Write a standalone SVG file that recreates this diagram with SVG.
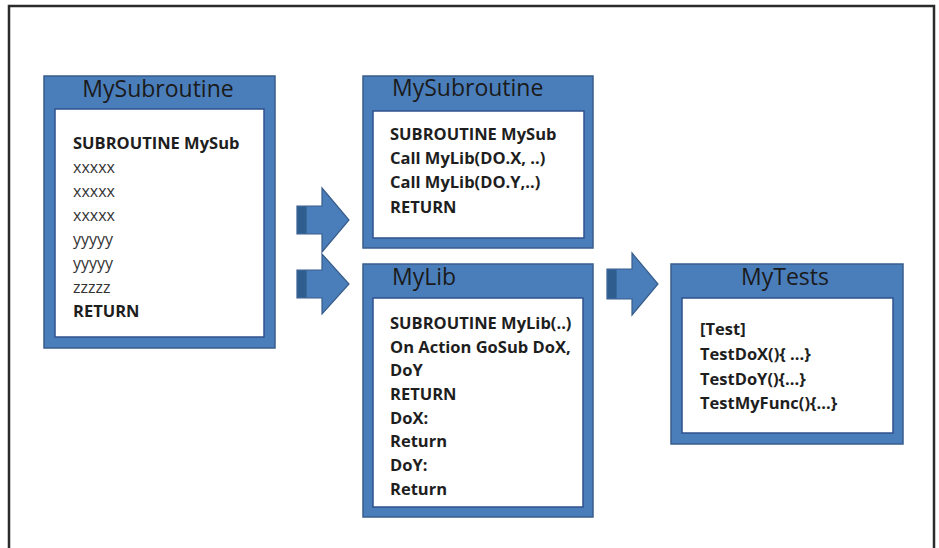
<svg xmlns="http://www.w3.org/2000/svg" width="939" height="548" viewBox="0 0 939 548">
<style>
.frame{fill:none;stroke:#2b2b2b;stroke-width:2.5}
.outer{fill:#4A7EBB;stroke:#385D8A;stroke-width:1.5}
.inner{fill:#ffffff;stroke:#2F528F;stroke-width:1.5}
.title{font-family:"Open Sans","Liberation Sans",sans-serif;font-size:23px;fill:#1a1a1a}
.body{font-family:"Open Sans","Liberation Sans",sans-serif;font-size:16.5px;font-weight:bold;fill:#1e1e1e}
.light{font-family:"Open Sans","Liberation Sans",sans-serif;font-size:16px;font-weight:normal;fill:#333333}
.arrow{fill:#4A7EBB;stroke:#385D8A;stroke-width:1.2}
.band{fill:#2F5E8E}
</style>
<rect width="939" height="548" fill="#ffffff"/>
<rect class="frame" x="9" y="6" width="925" height="570"/>

<g id="node-mysubroutine-original">
<rect class="outer" x="44" y="76" width="231" height="272"/>
<rect class="inner" x="55" y="109" width="209" height="228"/>
<text class="title" x="158" y="97" text-anchor="middle">MySubroutine</text>
<text class="body" x="73" y="149">SUBROUTINE MySub</text>
<text class="light" x="73" y="173">xxxxx</text>
<text class="light" x="73" y="197">xxxxx</text>
<text class="light" x="73" y="221">xxxxx</text>
<text class="light" x="73" y="245">yyyyy</text>
<text class="light" x="73" y="269">yyyyy</text>
<text class="light" x="73" y="293">zzzzz</text>
<text class="body" x="73" y="317">RETURN</text>
</g>

<g id="node-mysubroutine-new">
<rect class="outer" x="363" y="76" width="230" height="172"/>
<rect class="inner" x="373" y="111" width="211" height="127"/>
<text class="title" x="392" y="96">MySubroutine</text>
<text class="body" x="390" y="140">SUBROUTINE MySub</text>
<text class="body" x="390" y="164">Call MyLib(DO.X, ..)</text>
<text class="body" x="390" y="188">Call MyLib(DO.Y,..)</text>
<text class="body" x="390" y="213">RETURN</text>
</g>

<g id="node-mylib">
<rect class="outer" x="363" y="264" width="230" height="253"/>
<rect class="inner" x="373" y="298" width="210" height="209"/>
<text class="title" x="392" y="285">MyLib</text>
<text class="body" x="390" y="329">SUBROUTINE MyLib(..)</text>
<text class="body" x="390" y="353">On Action GoSub DoX,</text>
<text class="body" x="390" y="376">DoY</text>
<text class="body" x="390" y="400">RETURN</text>
<text class="body" x="390" y="424">DoX:</text>
<text class="body" x="390" y="447">Return</text>
<text class="body" x="390" y="471">DoY:</text>
<text class="body" x="390" y="495">Return</text>
</g>

<g id="node-mytests">
<rect class="outer" x="671" y="264" width="232" height="180"/>
<rect class="inner" x="682" y="298" width="211" height="135"/>
<text class="title" x="785" y="285" text-anchor="middle">MyTests</text>
<text class="body" x="700" y="335">[Test]</text>
<text class="body" x="700" y="360">TestDoX(){ ...}</text>
<text class="body" x="700" y="385">TestDoY(){...}</text>
<text class="body" x="700" y="409">TestMyFunc(){...}</text>
</g>

<g id="connectors">
<path class="arrow" d="M297,206 H322 V188 L349,220 L322,252 V234 H297 Z"/>
<rect class="band" x="297.6" y="206.6" width="9" height="26.8"/>
<path class="arrow" d="M297,270 H322 V254 L349,284 L322,314 V298 H297 Z"/>
<rect class="band" x="297.6" y="270.6" width="9" height="26.8"/>
<path class="arrow" d="M607,269 H632 V253 L658,284 L632,315 V299 H607 Z"/>
<rect class="band" x="607.6" y="269.6" width="9" height="28.8"/>
</g>
</svg>
